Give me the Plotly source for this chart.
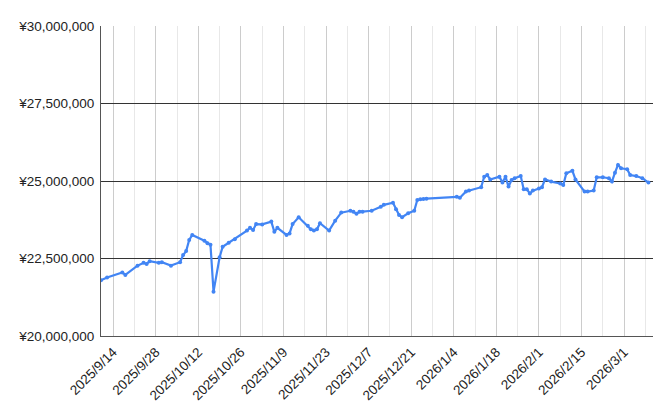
import plotly.graph_objects as go

dates = [
    "2025-09-10", "2025-09-12", "2025-09-17", "2025-09-18", "2025-09-22", "2025-09-24",
    "2025-09-25", "2025-09-26", "2025-09-29", "2025-09-30", "2025-10-03", "2025-10-06",
    "2025-10-07", "2025-10-08", "2025-10-09", "2025-10-10", "2025-10-14", "2025-10-15",
    "2025-10-16", "2025-10-17", "2025-10-19", "2025-10-20", "2025-10-22", "2025-10-24",
    "2025-10-28", "2025-10-29", "2025-10-30", "2025-10-31", "2025-11-02", "2025-11-05",
    "2025-11-06", "2025-11-07", "2025-11-10", "2025-11-11", "2025-11-12", "2025-11-14",
    "2025-11-17", "2025-11-18", "2025-11-19", "2025-11-20", "2025-11-21", "2025-11-24",
    "2025-11-26", "2025-11-28", "2025-12-01", "2025-12-02", "2025-12-03", "2025-12-04",
    "2025-12-05", "2025-12-08", "2025-12-11", "2025-12-12", "2025-12-15", "2025-12-16",
    "2025-12-17", "2025-12-18", "2025-12-20", "2025-12-22", "2025-12-23", "2025-12-24",
    "2025-12-25", "2025-12-26", "2026-01-05", "2026-01-06", "2026-01-08", "2026-01-09",
    "2026-01-13", "2026-01-14", "2026-01-15", "2026-01-16", "2026-01-19", "2026-01-20",
    "2026-01-21", "2026-01-22", "2026-01-23", "2026-01-24", "2026-01-26", "2026-01-27",
    "2026-01-28", "2026-01-29", "2026-01-30", "2026-02-01", "2026-02-02", "2026-02-03",
    "2026-02-05", "2026-02-08", "2026-02-09", "2026-02-10", "2026-02-12", "2026-02-13",
    "2026-02-16", "2026-02-17", "2026-02-19", "2026-02-20", "2026-02-22", "2026-02-24",
    "2026-02-25", "2026-02-26", "2026-02-27", "2026-02-28", "2026-03-02", "2026-03-03",
    "2026-03-05", "2026-03-07", "2026-03-09",
]

values = [
    21800000, 21890000, 22050000, 21970000, 22270000, 22360000,
    22320000, 22410000, 22360000, 22380000, 22270000, 22380000,
    22610000, 22740000, 23100000, 23260000, 23070000, 22990000,
    22940000, 21430000, 22540000, 22880000, 23010000, 23120000,
    23400000, 23490000, 23420000, 23610000, 23600000, 23690000,
    23360000, 23490000, 23260000, 23310000, 23610000, 23830000,
    23560000, 23440000, 23400000, 23440000, 23640000, 23400000,
    23720000, 23980000, 24040000, 24010000, 23940000, 24010000,
    24010000, 24040000, 24170000, 24230000, 24300000, 24090000,
    23900000, 23830000, 23960000, 24040000, 24390000, 24410000,
    24420000, 24430000, 24490000, 24460000, 24660000, 24690000,
    24800000, 25140000, 25190000, 25050000, 25140000, 24950000,
    25140000, 24820000, 25030000, 25090000, 25160000, 24730000,
    24730000, 24600000, 24690000, 24760000, 24800000, 25050000,
    24980000, 24920000, 24870000, 25250000, 25330000, 25050000,
    24660000, 24660000, 24690000, 25120000, 25120000, 25090000,
    24980000, 25270000, 25520000, 25410000, 25380000, 25190000,
    25160000, 25090000, 24950000,
]

y_ticks = [20000000, 22500000, 25000000, 27500000, 30000000]
y_tick_labels = ["¥20,000,000", "¥22,500,000", "¥25,000,000", "¥27,500,000", "¥30,000,000"]

DAY_MS = 86400000

fig = go.Figure()
fig.add_trace(go.Scatter(
    x=dates, y=values, mode="lines+markers",
    line=dict(color="#4285F4", width=2.2),
    marker=dict(color="#4285F4", size=4),
    hoverinfo="x+y", showlegend=False,
))

font = dict(family="Liberation Sans, Arial, sans-serif", size=13.5, color="#222222")

fig.update_layout(
    width=672, height=414,
    margin=dict(l=93, r=27, t=18, b=86, autoexpand=False),
    paper_bgcolor="white", plot_bgcolor="white",
    font=font,
    xaxis=dict(
        type="date",
        range=["2025-09-10", "2026-03-10 12:00"],
        tick0="2025-09-14", dtick=14 * DAY_MS,
        tickformat="%Y/%-m/%-d", tickangle=-45,
        showgrid=True, gridcolor="#cccccc", gridwidth=1,
        minor=dict(tick0="2025-09-14", dtick=7 * DAY_MS, showgrid=True,
                   gridcolor="#e8e8e8", gridwidth=1),
        showline=True, linecolor="#555555", linewidth=1,
        ticks="", zeroline=False, automargin=False,
        ticklabelstandoff=2,
        tickfont=font,
    ),
    yaxis=dict(
        range=[20000000, 30000000],
        tickvals=y_ticks, ticktext=y_tick_labels,
        showgrid=True, gridcolor="#333333", gridwidth=1,
        showline=True, linecolor="#555555", linewidth=1,
        ticks="", zeroline=False, automargin=False,
        ticklabelstandoff=3,
        tickfont=font,
    ),
)

fig.write_html("out.html")
